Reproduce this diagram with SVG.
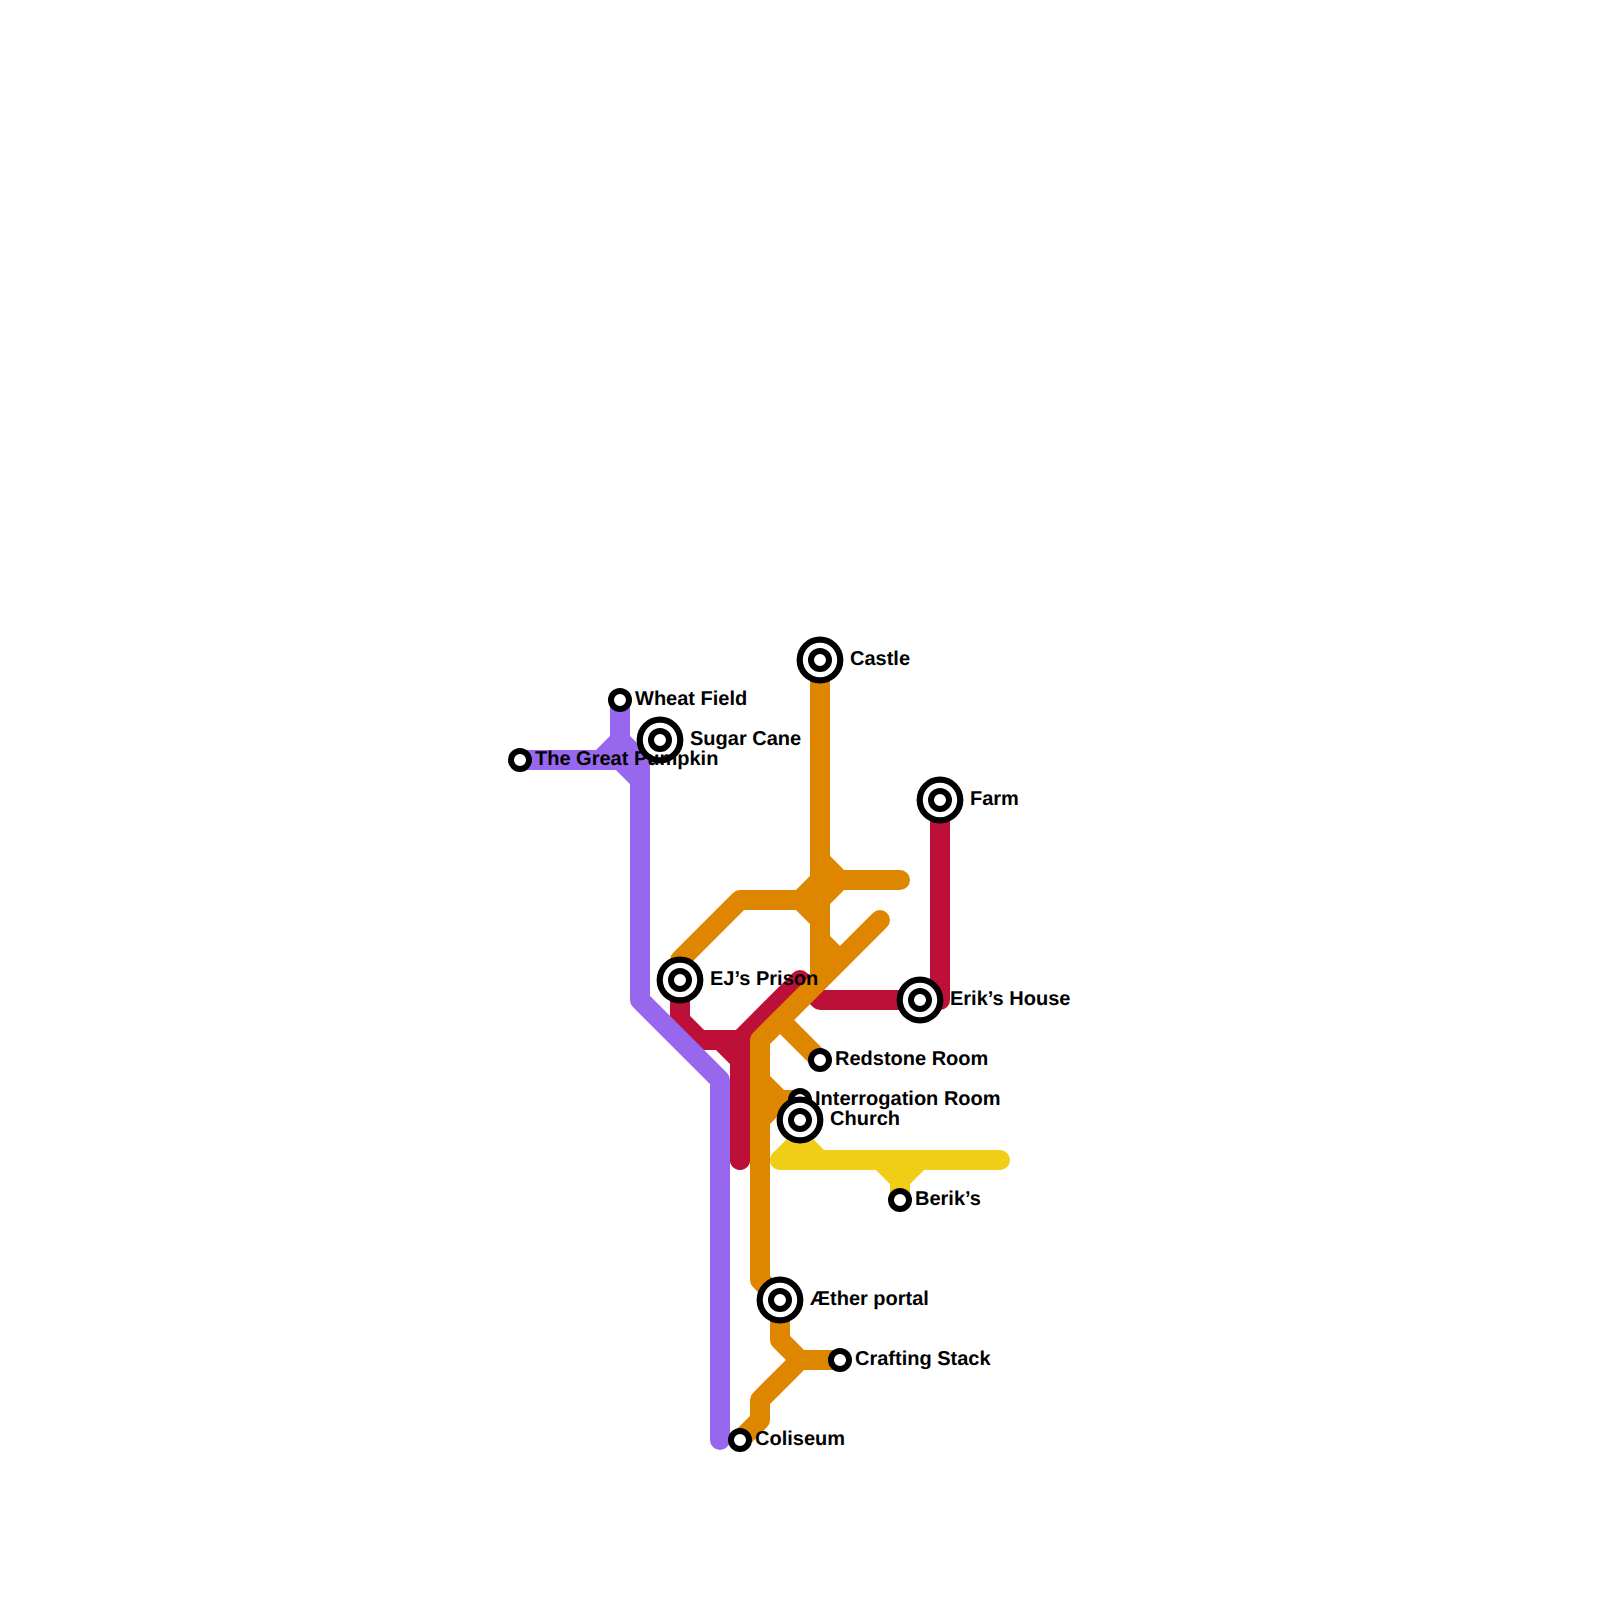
<svg xmlns="http://www.w3.org/2000/svg" width="1600" height="1600" viewBox="0 0 1600 1600">
<style>
.l{fill:none;stroke-width:20;stroke-linecap:round;stroke-linejoin:round}
.red{stroke:#bd1038}.pur{stroke:#9768ee}.ora{stroke:#df8600}.yel{stroke:#f0ce15}
.s{fill:#fff;stroke:#000;stroke-width:6}
.b{fill:#fff;stroke:#000;stroke-width:6.2}
text{font-family:"Liberation Sans",Arial,sans-serif;font-weight:700;font-size:20px;fill:#000;text-rendering:geometricPrecision}
</style>
<rect width="1600" height="1600" fill="#fff"/>
<g id="connectors">
<g id="line-red">
<path class="l red" d="M680,980V1020L700,1040H740"/>
<path class="l red" d="M720,1040L740,1060V1160"/>
<path class="l red" d="M740,1040V1160"/>
<path class="l red" d="M740,1040L800,980L820,1000H940V800"/>
</g>
<g id="line-purple">
<path class="l pur" d="M620,700V740L640,760V1000L720,1080V1440"/>
<path class="l pur" d="M520,760H620L640,780"/>
<path class="l pur" d="M600,760L620,740"/>
</g>
<g id="line-orange">
<path class="l ora" d="M820,660V980"/>
<path class="l ora" d="M820,860L840,880H900"/>
<path class="l ora" d="M680,980V960L740,900H800L820,880H840L820,900"/>
<path class="l ora" d="M800,900L820,920"/>
<path class="l ora" d="M820,940L840,960"/>
<path class="l ora" d="M880,920L760,1040V1280L780,1300V1340L800,1360H840"/>
<path class="l ora" d="M780,1020L820,1060"/>
<path class="l ora" d="M760,1080L780,1100H800"/>
<path class="l ora" d="M760,1120L780,1100"/>
<path class="l ora" d="M800,1360L760,1400V1420L740,1440"/>
</g>
<g id="line-yellow">
<path class="l yel" d="M780,1160H1000"/>
<path class="l yel" d="M780,1160L800,1140L820,1160"/>
<path class="l yel" d="M880,1160L900,1180L920,1160"/>
<path class="l yel" d="M900,1180V1200"/>
</g>
</g>
<g id="castle"><circle class="b" cx="820" cy="660" r="20.3"/><circle class="s" cx="820" cy="660" r="9"/><text x="850" y="665">Castle</text></g>
<g id="wheat-field"><circle class="s" cx="620" cy="700" r="9"/><text x="635" y="705">Wheat Field</text></g>
<g id="sugar-cane"><circle class="b" cx="660" cy="740" r="20.3"/><circle class="s" cx="660" cy="740" r="9"/><text x="690" y="745">Sugar Cane</text></g>
<g id="great-pumpkin"><circle class="s" cx="520" cy="760" r="9"/><text x="535" y="765">The Great Pumpkin</text></g>
<g id="farm"><circle class="b" cx="940" cy="800" r="20.3"/><circle class="s" cx="940" cy="800" r="9"/><text x="970" y="805">Farm</text></g>
<g id="ej-prison"><circle class="b" cx="680" cy="980" r="20.3"/><circle class="s" cx="680" cy="980" r="9"/><text x="710" y="985">EJ’s Prison</text></g>
<g id="erik-house"><circle class="b" cx="920" cy="1000" r="20.3"/><circle class="s" cx="920" cy="1000" r="9"/><text x="950" y="1005">Erik’s House</text></g>
<g id="redstone-room"><circle class="s" cx="820" cy="1060" r="9"/><text x="835" y="1065">Redstone Room</text></g>
<g id="interrogation-room"><circle class="s" cx="800" cy="1100" r="9"/><text x="815" y="1105">Interrogation Room</text></g>
<g id="church"><circle class="b" cx="800" cy="1120" r="20.3"/><circle class="s" cx="800" cy="1120" r="9"/><text x="830" y="1125">Church</text></g>
<g id="beriks"><circle class="s" cx="900" cy="1200" r="9"/><text x="915" y="1205">Berik’s</text></g>
<g id="aether-portal"><circle class="b" cx="780" cy="1300" r="20.3"/><circle class="s" cx="780" cy="1300" r="9"/><text x="810" y="1305">Æther portal</text></g>
<g id="crafting-stack"><circle class="s" cx="840" cy="1360" r="9"/><text x="855" y="1365">Crafting Stack</text></g>
<g id="coliseum"><circle class="s" cx="740" cy="1440" r="9"/><text x="755" y="1445">Coliseum</text></g>
</svg>
